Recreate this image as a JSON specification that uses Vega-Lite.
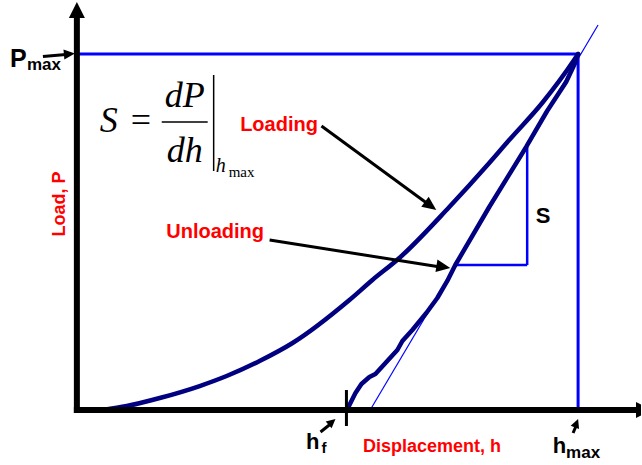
{
  "$schema": "https://vega.github.io/schema/vega-lite/v6.json",
  "width": 642,
  "height": 465,
  "autosize": {"type": "fit", "contains": "padding"},
  "padding": 0,
  "background": "white",
  "config": {"view": {"stroke": null}},
  "encoding": {
    "x": {"field": "h", "type": "quantitative", "axis": null,
          "scale": {"domain": [-15.339, 112.55], "nice": false, "zero": false}},
    "y": {"field": "P", "type": "quantitative", "axis": null,
          "scale": {"domain": [-15.45, 115.17], "nice": false, "zero": false}}
  },
  "layer": [
    {
      "description": "Reference frame at P_max and h_max",
      "data": {"values": [
        {"h": 0, "P": 100, "h2": 100, "P2": 100},
        {"h": 100, "P": 100, "h2": 100, "P2": 0}
      ]},
      "mark": {"type": "rule", "color": "#0000ff", "strokeWidth": 3},
      "encoding": {"x2": {"field": "h2"}, "y2": {"field": "P2"}}
    },
    {
      "description": "Stiffness triangle",
      "data": {"values": [
        {"h": 89.84, "P": 73.88, "h2": 89.84, "P2": 40.73},
        {"h": 75.3, "P": 40.73, "h2": 89.84, "P2": 40.73}
      ]},
      "mark": {"type": "rule", "color": "#0000ff", "strokeWidth": 2.5},
      "encoding": {"x2": {"field": "h2"}, "y2": {"field": "P2"}}
    },
    {
      "description": "Tangent to the unloading curve at h_max",
      "data": {"values": [{"h": 58.4, "P": -0.28, "h2": 103.98, "P2": 108.15}]},
      "mark": {"type": "rule", "color": "#0000ff", "strokeWidth": 1.2},
      "encoding": {"x2": {"field": "h2"}, "y2": {"field": "P2"}}
    },
    {
      "description": "Loading curve",
      "data": {"values": [
        {"h": 5.18, "P": 0}, {"h": 9.96, "P": 1.12}, {"h": 16.53, "P": 3.37},
        {"h": 24.5, "P": 6.74}, {"h": 29.88, "P": 9.55}, {"h": 36.45, "P": 13.76},
        {"h": 43.03, "P": 18.82}, {"h": 54.38, "P": 30.9}, {"h": 58.96, "P": 36.52},
        {"h": 64.34, "P": 42.7}, {"h": 74.3, "P": 57.02}, {"h": 82.27, "P": 69.38},
        {"h": 86.25, "P": 75.84}, {"h": 92.83, "P": 86.24}, {"h": 99.2, "P": 98.31},
        {"h": 100, "P": 100}
      ]},
      "mark": {"type": "line", "color": "#000080", "strokeWidth": 4.5, "strokeCap": "round",
               "strokeJoin": "round", "interpolate": "monotone"}
    },
    {
      "description": "Unloading curve",
      "data": {"values": [
        {"h": 53.78, "P": 0}, {"h": 54.38, "P": 1.4}, {"h": 55.58, "P": 4.78},
        {"h": 56.77, "P": 7.3}, {"h": 58.37, "P": 9.27}, {"h": 59.56, "P": 10.11},
        {"h": 61.75, "P": 13.48}, {"h": 63.94, "P": 16.85}, {"h": 64.94, "P": 19.38},
        {"h": 66.93, "P": 22.47}, {"h": 69.72, "P": 27.25}, {"h": 71.91, "P": 31.46},
        {"h": 73.9, "P": 36.24}, {"h": 75.5, "P": 40.73}, {"h": 82.27, "P": 57.02},
        {"h": 89.64, "P": 73.88}, {"h": 93.82, "P": 83.99}, {"h": 97.61, "P": 92.13},
        {"h": 99.4, "P": 97.47}, {"h": 100, "P": 100}
      ]},
      "mark": {"type": "line", "color": "#000080", "strokeWidth": 4.5, "strokeCap": "round", "strokeJoin": "round"}
    },
    {
      "description": "Load and displacement axes",
      "data": {"values": [
        {"h": 0, "P": -0.85, "h2": 0, "P2": 110.4},
        {"h": -0.6, "P": 0, "h2": 112.15, "P2": 0}
      ]},
      "mark": {"type": "rule", "color": "black", "strokeWidth": 6, "strokeCap": "butt"},
      "encoding": {"x2": {"field": "h2"}, "y2": {"field": "P2"}}
    },
    {
      "description": "Load axis arrowhead",
      "data": {"values": [{"h": 0, "P": 114.61}]},
      "mark": {"type": "point", "shape": "M0,0L-0.5,1L0.5,1Z", "filled": true, "size": 1024,
               "color": "black", "opacity": 1, "strokeWidth": 0}
    },
    {
      "description": "Displacement axis arrowhead",
      "data": {"values": [{"h": 114.74, "P": 0}]},
      "mark": {"type": "point", "shape": "M0,0L-0.5,1L0.5,1Z", "filled": true, "size": 1024,
               "angle": 90, "color": "black", "opacity": 1, "strokeWidth": 0, "clip": true}
    },
    {
      "description": "Final depth tick",
      "data": {"values": [{"h": 53.78, "P": 5.62, "h2": 53.78, "P2": -4.49}]},
      "mark": {"type": "rule", "color": "black", "strokeWidth": 3},
      "encoding": {"x2": {"field": "h2"}, "y2": {"field": "P2"}}
    },
    {
      "description": "Pointer shafts",
      "data": {"values": [
        {"h": -6.77, "P": 99.3, "h2": -2.19, "P2": 99.86},
        {"h": 48.8, "P": 79.78, "h2": 70.32, "P2": 57.58},
        {"h": 38.45, "P": 47.75, "h2": 72.51, "P2": 40.17},
        {"h": 48.61, "P": -6.18, "h2": 50.6, "P2": -3.93},
        {"h": 99.0, "P": -6.46, "h2": 99.6, "P2": -4.49}
      ]},
      "mark": {"type": "rule", "color": "black", "strokeWidth": 3},
      "encoding": {"x2": {"field": "h2"}, "y2": {"field": "P2"}}
    },
    {
      "data": {"values": [{"h": -0.4, "P": 100.14}]},
      "mark": {"type": "point", "shape": "M0,0L-0.45,1L0.45,1Z", "filled": true, "size": 484,
               "angle": 85, "color": "black", "opacity": 1, "strokeWidth": 0}
    },
    {
      "data": {"values": [{"h": 71.71, "P": 56.18}]},
      "mark": {"type": "point", "shape": "M0,0L-0.45,1L0.45,1Z", "filled": true, "size": 784,
               "angle": 126, "color": "black", "opacity": 1, "strokeWidth": 0}
    },
    {
      "data": {"values": [{"h": 74.5, "P": 39.89}]},
      "mark": {"type": "point", "shape": "M0,0L-0.45,1L0.45,1Z", "filled": true, "size": 784,
               "angle": 99, "color": "black", "opacity": 1, "strokeWidth": 0}
    },
    {
      "data": {"values": [{"h": 51.59, "P": -2.53}]},
      "mark": {"type": "point", "shape": "M0,0L-0.5,1L0.5,1Z", "filled": true, "size": 324,
               "angle": 49, "color": "black", "opacity": 1, "strokeWidth": 0}
    },
    {
      "data": {"values": [{"h": 100, "P": -2.53}]},
      "mark": {"type": "point", "shape": "M0,0L-0.5,1L0.5,1Z", "filled": true, "size": 324,
               "angle": 21, "color": "black", "opacity": 1, "strokeWidth": 0}
    },
    {
      "description": "Stiffness formula: fraction bar and evaluation bar",
      "data": {"values": [
        {"h": 16.93, "P": 80.9, "h2": 26.1, "P2": 80.9},
        {"h": 27.29, "P": 94.1, "h2": 27.29, "P2": 67.13}
      ]},
      "mark": {"type": "rule", "color": "black", "strokeWidth": 1.5},
      "encoding": {"x2": {"field": "h2"}, "y2": {"field": "P2"}}
    },
    {
      "data": {"values": [{"t": "S", "h": 4.58, "P": 78.09}]},
      "mark": {"type": "text", "font": "Liberation Serif", "fontStyle": "italic", "fontSize": 36,
               "align": "left", "baseline": "alphabetic", "color": "black"},
      "encoding": {"text": {"field": "t"}}
    },
    {
      "data": {"values": [{"t": "=", "h": 10.76, "P": 78.09}]},
      "mark": {"type": "text", "font": "Liberation Serif", "fontSize": 36,
               "align": "left", "baseline": "alphabetic", "color": "black"},
      "encoding": {"text": {"field": "t"}}
    },
    {
      "data": {"values": [{"t": "dP", "h": 21.51, "P": 85.11}, {"t": "dh", "h": 21.51, "P": 69.66}]},
      "mark": {"type": "text", "font": "Liberation Serif", "fontStyle": "italic", "fontSize": 36,
               "align": "center", "baseline": "alphabetic", "color": "black"},
      "encoding": {"text": {"field": "t"}}
    },
    {
      "data": {"values": [{"t": "h", "h": 27.69, "P": 66.85}]},
      "mark": {"type": "text", "font": "Liberation Serif", "fontStyle": "italic", "fontSize": 20,
               "align": "left", "baseline": "alphabetic", "color": "black"},
      "encoding": {"text": {"field": "t"}}
    },
    {
      "data": {"values": [{"t": "max", "h": 30.28, "P": 65.45}]},
      "mark": {"type": "text", "font": "Liberation Serif", "fontSize": 15,
               "align": "left", "baseline": "alphabetic", "color": "black"},
      "encoding": {"text": {"field": "t"}}
    },
    {
      "data": {"values": [{"t": "P", "h": -13.35, "P": 96.35}]},
      "mark": {"type": "text", "font": "Liberation Sans", "fontWeight": "bold", "fontSize": 25,
               "align": "left", "baseline": "alphabetic", "color": "black"},
      "encoding": {"text": {"field": "t"}}
    },
    {
      "data": {"values": [{"t": "max", "h": -9.96, "P": 95.51}, {"t": "max", "h": 97.61, "P": -13.48}]},
      "mark": {"type": "text", "font": "Liberation Sans", "fontWeight": "bold", "fontSize": 17,
               "align": "left", "baseline": "alphabetic", "color": "black"},
      "encoding": {"text": {"field": "t"}}
    },
    {
      "data": {"values": [
        {"t": "h", "h": 45.72, "P": -10.96},
        {"t": "h", "h": 94.92, "P": -12.08},
        {"t": "S", "h": 91.53, "P": 52.53}
      ]},
      "mark": {"type": "text", "font": "Liberation Sans", "fontWeight": "bold", "fontSize": 22,
               "align": "left", "baseline": "alphabetic", "color": "black"},
      "encoding": {"text": {"field": "t"}}
    },
    {
      "data": {"values": [{"t": "f", "h": 48.8, "P": -12.08}]},
      "mark": {"type": "text", "font": "Liberation Sans", "fontWeight": "bold", "fontSize": 15,
               "align": "left", "baseline": "alphabetic", "color": "black"},
      "encoding": {"text": {"field": "t"}}
    },
    {
      "data": {"values": [{"t": "Loading", "h": 32.57, "P": 78.51}, {"t": "Unloading", "h": 17.83, "P": 48.31}]},
      "mark": {"type": "text", "font": "Liberation Sans", "fontWeight": "bold", "fontSize": 20,
               "align": "left", "baseline": "alphabetic", "color": "#ff0000"},
      "encoding": {"text": {"field": "t"}}
    },
    {
      "data": {"values": [{"t": "Displacement, h", "h": 57.07, "P": -11.8}]},
      "mark": {"type": "text", "font": "Liberation Sans", "fontWeight": "bold", "fontSize": 18,
               "align": "left", "baseline": "alphabetic", "color": "#ff0000"},
      "encoding": {"text": {"field": "t"}}
    },
    {
      "data": {"values": [{"t": "Load, P", "h": -3.39, "P": 57.87}]},
      "mark": {"type": "text", "font": "Liberation Sans", "fontWeight": "bold", "fontSize": 18,
               "angle": 270, "align": "center", "baseline": "middle", "color": "#ff0000"},
      "encoding": {"text": {"field": "t"}}
    }
  ]
}
